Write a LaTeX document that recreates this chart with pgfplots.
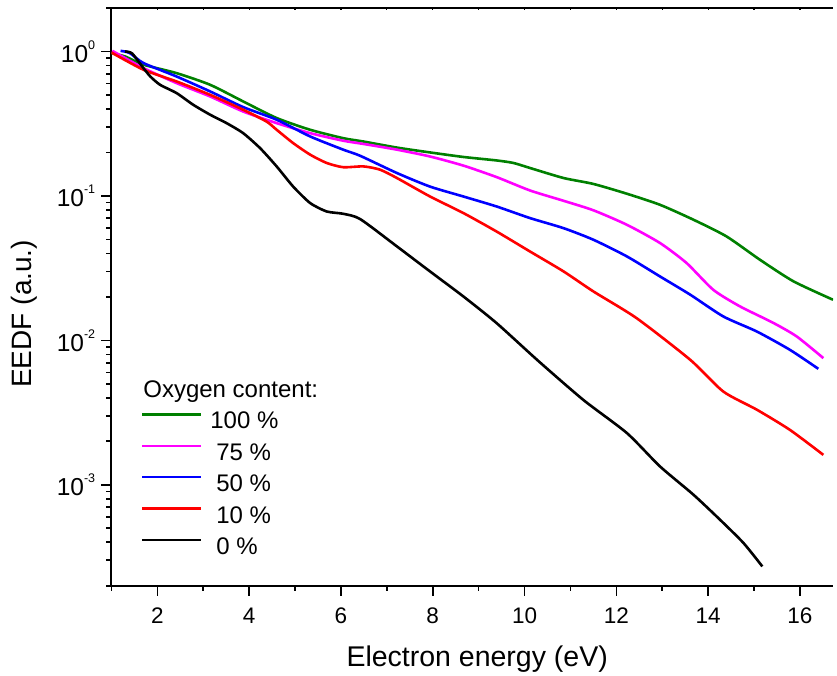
\documentclass[border=0pt]{standalone}
\usepackage{fontspec}
\setmainfont{Liberation Sans}
\usepackage{pgfplots}
\pgfplotsset{compat=1.18}
\definecolor{cgreen}{RGB}{0,128,0}
\definecolor{cmag}{RGB}{255,0,255}
\definecolor{cblue}{RGB}{0,0,255}
\definecolor{cred}{RGB}{255,0,0}
\newcommand{\tl}[1]{10\raisebox{13pt}{\fontsize{12.5}{12.5}\selectfont #1}}
\begin{document}
\begin{tikzpicture}
\begin{axis}[name=ax,
  scale only axis, width=721.6pt, height=577.7pt,
  ymode=log,
  xmin=1, xmax=16.72, ymin=2e-4, ymax=2,
  axis lines=left, axis line style={-, line width=1.8pt},
  tick style={line width=1.6pt, black},
  tick align=outside, major tick length=10pt, minor tick length=5pt,
  xtick={2,4,...,16}, minor xtick={1,3,...,15},
  ytick={1e-3,1e-2,1e-1,1},
  yticklabels={\tl{-3},\tl{-2},\tl{-1},\tl{0}},
  minor ytick={2e-4,3e-4,4e-4,5e-4,6e-4,7e-4,8e-4,9e-4,2e-3,3e-3,4e-3,5e-3,6e-3,7e-3,8e-3,9e-3,2e-2,3e-2,4e-2,5e-2,6e-2,7e-2,8e-2,9e-2,0.2,0.3,0.4,0.5,0.6,0.7,0.8,0.9,2},
  /pgf/number format/assume math mode=true,
  xticklabel style={font=\fontsize{22.5}{22.5}\selectfont, inner sep=0pt, anchor=base, yshift=-28pt},
  yticklabel style={font=\fontsize{24.5}{24.5}\selectfont, inner sep=0pt, anchor=east, xshift=-6pt},
  every axis x label/.style={at={([xshift=5pt,yshift=-80.3pt]axis description cs:0.5,0)}, anchor=base, font=\fontsize{28.5}{28.5}\selectfont},
  every axis y label/.style={at={([xshift=-79.4pt,yshift=-17pt]axis description cs:0,0.5)}, rotate=90, anchor=base, font=\fontsize{28}{28}\selectfont},
  xlabel={Electron energy (eV)},
  ylabel={EEDF (a.u.)},
  legend cell align=left,
  legend style={draw=none, fill=none, at={(axis description cs:0.041,0.2003)}, anchor=west,
    inner sep=0pt, outer sep=0pt, row sep=9.34pt,
    nodes={inner sep=0pt, font=\fontsize{24}{24}\selectfont, text height=17pt, text depth=5pt},
    /tikz/every odd column/.append style={column sep=8pt}},
  legend image code/.code={\draw[#1, line width=2.4pt] (0pt,8.6pt) -- (59pt,8.6pt);},
  every axis plot/.append style={line width=2.6pt, smooth, tension=0.4, no markers},
]
\addlegendimage{empty legend}
\addlegendentry{\hspace{-67pt}Oxygen content:}

\addplot[cgreen] coordinates {(1.0,0.975) (1.3,0.923) (1.7,0.81) (2.42,0.708) (3.15,0.588) (3.87,0.451) (4.6,0.346) (5.33,0.287) (6.05,0.251) (6.49,0.238) (7.22,0.216) (7.94,0.200) (8.67,0.186) (9.39,0.176) (9.76,0.169) (10.12,0.156) (10.85,0.133) (11.5,0.121) (12.23,0.1035) (12.95,0.0868) (13.68,0.0684) (14.4,0.0524) (15.13,0.0361) (15.86,0.0256) (16.72,0.0191)};
\addlegendentry{100 \%}

\addplot[cmag] coordinates {(1.02,1.01) (1.7,0.767) (2.42,0.604) (3.15,0.488) (3.87,0.384) (4.6,0.319) (5.33,0.272) (6.05,0.241) (6.49,0.229) (7.22,0.209) (7.94,0.1875) (8.67,0.162) (9.39,0.135) (10.12,0.109) (10.85,0.0925) (11.5,0.0795) (12.23,0.0631) (12.95,0.0472) (13.53,0.0343) (14.11,0.0224) (14.69,0.0172) (15.42,0.0132) (15.93,0.01063) (16.51,0.00753)};
\addlegendentry{\hspace{6pt}75 \%}

\addplot[cblue] coordinates {(1.2,1.01) (1.4,0.975) (1.7,0.831) (2.42,0.671) (3.15,0.529) (3.87,0.412) (4.6,0.337) (5.33,0.258) (6.05,0.209) (6.42,0.1895) (7.22,0.144) (7.94,0.116) (8.67,0.099) (9.39,0.0845) (10.12,0.0702) (10.85,0.0598) (11.5,0.0497) (12.23,0.0381) (12.95,0.0277) (13.61,0.0207) (14.33,0.01463) (15.06,0.01151) (15.78,0.0086) (16.4,0.00635)};
\addlegendentry{\hspace{6pt}50 \%}

\addplot[cred] coordinates {(1.0,0.984) (1.7,0.747) (2.42,0.62) (3.15,0.501) (3.87,0.395) (4.38,0.327) (4.6,0.287) (4.96,0.232) (5.33,0.193) (5.69,0.169) (6.05,0.158) (6.49,0.160) (6.85,0.152) (7.22,0.133) (7.94,0.0991) (8.67,0.076) (9.39,0.0567) (10.12,0.0412) (10.85,0.03) (11.5,0.0218) (12.44,0.01425) (13.61,0.00733) (14.33,0.00442) (15.06,0.00331) (15.78,0.0024) (16.51,0.00161)};
\addlegendentry{\hspace{6pt}10 \%}

\addplot[black] coordinates {(1.3,1.0) (1.45,0.97) (1.68,0.78) (1.85,0.67) (2.06,0.588) (2.42,0.515) (2.78,0.428) (3.15,0.365) (3.51,0.319) (3.87,0.272) (4.24,0.214) (4.6,0.16) (4.96,0.116) (5.33,0.0892) (5.69,0.078) (6.05,0.0752) (6.42,0.0691) (7.22,0.0447) (7.94,0.03) (8.67,0.0201) (9.39,0.01317) (10.3,0.0072) (11.28,0.00387) (12.23,0.00228) (12.95,0.00134) (13.68,0.000853) (14.26,0.000572) (14.77,0.000395) (15.18,0.000272)};
\addlegendentry{\hspace{6pt}0 \%}
\end{axis}
\begin{axis}[
  at={(ax.south west)}, anchor=south west,
  scale only axis, width=721.6pt, height=577.7pt,
  xmin=1, xmax=16.72, ymin=0, ymax=1,
  axis x line=top, axis y line=none,
  axis line style={-, line width=1.8pt},
  tick style={line width=1.2pt, black},
  tick align=inside, major tick length=2.5pt,
  xtick={1,2,...,16}, xticklabels={},
]
\end{axis}
\pgfresetboundingbox
\path[use as bounding box] ([xshift=-111.4pt,yshift=-90.3pt]ax.south west) rectangle ([xshift=4pt,yshift=8pt]ax.north east);
\end{tikzpicture}
\end{document}
